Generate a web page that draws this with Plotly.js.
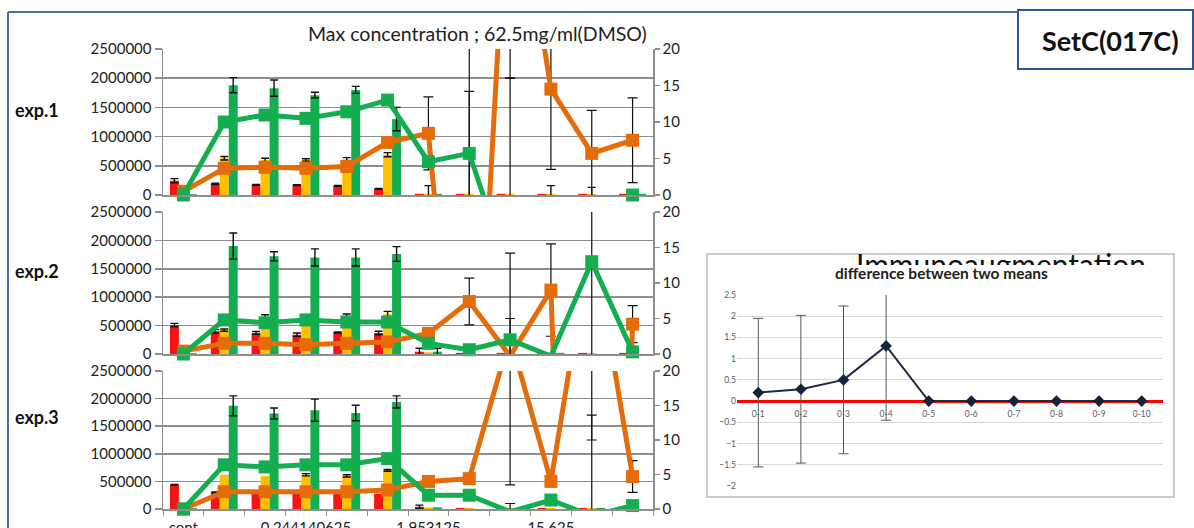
<!DOCTYPE html>
<html>
<head>
<meta charset="utf-8">
<script src="https://cdn.plot.ly/plotly-3.0.1.min.js"></script>
<style>
  html, body { margin: 0; padding: 0; overflow: hidden; background: #fff; }
  #main { position: absolute; left: 0; top: 0; width: 1194px; height: 528px; }
  #inset { position: absolute; left: 708px; top: 265px; width: 465px; height: 231px; background: #fff; }
</style>
</head>
<body>
<div id="main"></div>
<div id="inset"></div>
<script>
// ---------------- data ----------------
const categories = ['cont','0.06103515625','0.1220703125','0.244140625','0.48828125','0.9765625',
                    '1.953125','3.90625','7.8125','15.625','31.25','62.5'];
const xTickText = ['cont','','','0.244140625','','','1.953125','','','15.625','',''];
const leftTicks = [0, 500000, 1000000, 1500000, 2000000, 2500000];
const rightTicks = [0, 5, 10, 15, 20];
const expLabels = ['exp.1', 'exp.2', 'exp.3'];

// exp.1
const red1      = [245000,190000,172000,170000,155000,105000,20000,20000,20000,20000,20000,20000];
const red1Err   = [35000,10000,8000,8000,8000,8000,0,0,0,0,0,0];
const yellow1   = [0,630000,600000,600000,610000,690000,20000,20000,20000,20000,20000,20000];
const yellow1Err= [0,30000,30000,20000,30000,35000,140000,0,0,140000,110000,0];
const green1    = [15000,1880000,1830000,1710000,1800000,1300000,20000,0,0,0,0,20000];
const green1Err = [0,130000,140000,50000,60000,200000,0,0,0,0,0,0];
const orange1   = [0.5,3.65,3.8,3.65,3.9,7.2,8.45,-50,50,14.5,5.7,7.5];
const orange1Err= [0,0,0,0,0,0,5,80,34,11,5.9,5.8];
const gline1    = [0,10.0,10.96,10.5,11.4,13.0,4.56,5.7,-11,null,null,0];
const gline1Err = [0,0,0,0,0,0,0,8.5,27,0,0,0];

// exp.2
const red2      = [510000,400000,370000,340000,380000,370000,40000,20000,20000,20000,20000,20000];
const red2Err   = [30000,30000,25000,30000,10000,30000,60000,0,0,0,0,0];
const yellow2   = [0,420000,650000,600000,680000,700000,30000,20000,20000,20000,20000,20000];
const yellow2Err= [0,20000,40000,30000,25000,50000,0,0,0,0,0,0];
const green2    = [15000,1900000,1720000,1700000,1700000,1760000,40000,0,0,20000,0,0];
const green2Err = [0,230000,80000,150000,150000,130000,60000,0,0,0,0,0];
const orange2   = [0.4,1.5,1.5,1.3,1.5,1.7,2.9,7.4,-0.3,9.0,-150,4.2];
const orange2Err= [0,0,0,0,0,0,0,3.3,14.5,6.5,0,2.6];
const gline2    = [0,4.8,4.4,4.8,4.5,4.5,1.5,0.6,2.0,-0.3,13.0,0.3];
const gline2Err = [0,0,0,0,0,0,0.5,0,3,0,20,0];

// exp.3
const red3      = [440000,300000,300000,300000,300000,280000,40000,20000,20000,20000,20000,20000];
const red3Err   = [5000,10000,0,0,0,0,30000,0,0,0,0,0];
const yellow3   = [0,620000,600000,620000,600000,700000,30000,20000,20000,20000,20000,20000];
const yellow3Err= [0,0,0,20000,20000,15000,0,0,0,0,0,0];
const green3    = [15000,1870000,1730000,1790000,1740000,1940000,30000,0,0,0,20000,0];
const green3Err = [0,180000,100000,200000,140000,110000,0,0,0,0,0,0];
const orange3   = [0,2.5,2.5,2.5,2.5,2.75,4.0,4.4,25,4.0,40,4.7];
const orange3Err= [0,0,0,0,0,0,0,0,21.5,0,30,2.3];
const gline3    = [0,6.4,6.1,6.4,6.4,7.3,2.0,2.0,-0.4,1.3,-1,0.5];
const gline3Err = [0,0,0,0,0,0,0,0,1.2,0,14.6,0];

// inset: difference between two means
const diffCats  = ['0-1','0-2','0-3','0-4','0-5','0-6','0-7','0-8','0-9','0-10'];
const diffMeans = [0.2,0.28,0.5,1.3,0,0,0,0,0,0];
const diffErr   = [1.75,1.74,1.74,1.75,0,0,0,0,0,0];
const insetTicks = [-2,-1.5,-1,-0.5,0,0.5,1,1.5,2,2.5];

// ---------------- styling ----------------
const W = 1194, H = 528;
const px = x => x / W;
const py = y => 1 - y / H;
const RED = '#F41414', YEL = '#FFC000', GRN = '#14AE50', ORG = '#E46C0A';
const GRID = '#8e8e8e';
const FONT = 'Lato, "Open Sans", sans-serif';
const nz = a => a.map(v => (v > 0 ? v : NaN));

const exps = [
  {red: red1, redE: red1Err, yel: yellow1, yelE: yellow1Err, grn: green1, grnE: green1Err,
   org: orange1, orgE: orange1Err, gl: gline1, glE: gline1Err, top: 49, bot: 195},
  {red: red2, redE: red2Err, yel: yellow2, yelE: yellow2Err, grn: green2, grnE: green2Err,
   org: orange2, orgE: orange2Err, gl: gline2, glE: gline2Err, top: 212, bot: 354},
  {red: red3, redE: red3Err, yel: yellow3, yelE: yellow3Err, grn: green3, grnE: green3Err,
   org: orange3, orgE: orange3Err, gl: gline3, glE: gline3Err, top: 371, bot: 509}
];

const traces = [];
const layout = {
  width: W, height: H,
  margin: {l: 0, r: 0, t: 0, b: 0},
  paper_bgcolor: '#fff', plot_bgcolor: 'rgba(0,0,0,0)',
  barmode: 'group', bargap: 0.34, bargroupgap: 0,
  showlegend: false,
  font: {family: FONT, color: '#222'},
  shapes: [], annotations: []
};

const xDom = [px(163), px(653)];

exps.forEach((e, k) => {
  const xa = k === 0 ? 'x' : 'x' + (k + 1);
  const yl = k === 0 ? 'y' : 'y' + (2 * k + 1);
  const yr = 'y' + (2 * k + 2);
  const xKey = k === 0 ? 'xaxis' : 'xaxis' + (k + 1);
  const ylKey = k === 0 ? 'yaxis' : 'yaxis' + (2 * k + 1);
  const yrKey = 'yaxis' + (2 * k + 2);
  const errBar = arr => ({type: 'data', array: nz(arr), visible: true, color: '#111', thickness: 1.4, width: 4});
  const errLine = arr => ({type: 'data', array: nz(arr), visible: true, color: '#111', thickness: 1.2, width: 5});

  [[e.red, e.redE, RED], [e.yel, e.yelE, YEL], [e.grn, e.grnE, GRN]].forEach(([v, er, c]) => {
    traces.push({type: 'bar', x: categories, y: v, xaxis: xa, yaxis: yl,
      marker: {color: c, line: {width: 0}}, error_y: errBar(er), hoverinfo: 'skip'});
  });
  [[e.org, e.orgE, ORG], [e.gl, e.glE, GRN]].forEach(([v, er, c]) => {
    traces.push({type: 'scatter', mode: 'lines', x: categories, y: v, xaxis: xa, yaxis: yr,
      line: {color: c, width: 5}, connectgaps: false, cliponaxis: true, error_y: errLine(er), hoverinfo: 'skip'});
    traces.push({type: 'scatter', mode: 'markers', x: categories, y: v, xaxis: xa, yaxis: yr,
      marker: {symbol: 'square', size: 13, color: c}, cliponaxis: false, hoverinfo: 'skip'});
  });

  const isLast = k === 2;
  layout[xKey] = {
    type: 'category', categoryarray: categories, categoryorder: 'array', range: [-0.5, 11.5],
    domain: xDom, anchor: yl, showgrid: false, zeroline: false,
    showline: true, linecolor: GRID, linewidth: 1.5,
    ticks: isLast ? 'outside' : '', tickson: 'boundaries', ticklen: 5, tickcolor: GRID, tickwidth: 1,
    tickmode: 'array', tickvals: categories, ticktext: xTickText, tickangle: 0,
    ticklabelstandoff: 4,
    showticklabels: isLast, tickfont: {size: 15, color: '#222'}, fixedrange: true
  };
  layout[ylKey] = {
    domain: [py(e.bot), py(e.top)], anchor: xa, range: [0, 2500000],
    tickmode: 'array', tickvals: leftTicks, tickformat: 'd',
    showgrid: true, gridcolor: GRID, gridwidth: 1.5, zeroline: false,
    showline: true, linecolor: GRID, linewidth: 1.5,
    ticks: 'outside', ticklen: 7, tickcolor: GRID, tickwidth: 1.5,
    tickfont: {size: 15, color: '#222'}, fixedrange: true
  };
  layout[yrKey] = {
    overlaying: yl, side: 'right', anchor: xa, range: [0, 20],
    tickmode: 'array', tickvals: rightTicks,
    showgrid: false, zeroline: false, showline: true, linecolor: GRID, linewidth: 1.5,
    ticks: 'outside', ticklen: 5, tickcolor: GRID, tickwidth: 1.5,
    tickfont: {size: 15, color: '#222'}, fixedrange: true
  };
  layout.annotations.push({
    text: '<b>' + expLabels[k] + '</b>', xref: 'paper', yref: 'paper',
    x: px(37), y: py([110, 271, 417][k]), xanchor: 'center', yanchor: 'middle',
    showarrow: false, font: {size: 18, color: '#111', family: FONT}
  });
});

// title and slide decorations
layout.annotations.push({
  text: 'Max concentration ; 62.5mg/ml(DMSO)', xref: 'paper', yref: 'paper',
  x: px(478), y: py(33), xanchor: 'center', yanchor: 'middle', showarrow: false,
  font: {size: 19.5, color: '#222', family: FONT}
});
layout.annotations.push({
  text: '<b>SetC(017C)</b>', xref: 'paper', yref: 'paper',
  x: px(1110), y: py(40), xanchor: 'center', yanchor: 'middle', showarrow: false,
  font: {size: 27, color: '#111', family: FONT}
});
layout.annotations.push({
  text: 'Immunoaugmentation', xref: 'paper', yref: 'paper',
  x: px(1001), y: py(244), xanchor: 'center', yanchor: 'top', showarrow: false,
  font: {size: 30, color: '#111', family: FONT}
});
layout.shapes.push(
  {type: 'line', xref: 'paper', yref: 'paper', x0: px(8), x1: px(1018), y0: py(12), y1: py(12),
   line: {color: '#4a6fa5', width: 2}},
  {type: 'line', xref: 'paper', yref: 'paper', x0: px(8), x1: px(8), y0: py(12), y1: py(540),
   line: {color: '#4a6fa5', width: 2}},
  {type: 'rect', xref: 'paper', yref: 'paper', x0: px(1018), x1: px(1193), y0: py(10), y1: py(69),
   line: {color: '#2f5597', width: 2}, fillcolor: '#fff', layer: 'below'},
  {type: 'rect', xref: 'paper', yref: 'paper', x0: px(707), x1: px(1174), y0: py(254), y1: py(497),
   line: {color: '#bdbdbd', width: 1.5}, fillcolor: 'rgba(0,0,0,0)', layer: 'above'}
);

Plotly.newPlot('main', traces, layout, {displayModeBar: false, staticPlot: true});

// ---------------- inset ----------------
const insetTraces = [{
  type: 'scatter', mode: 'lines+markers', x: diffCats, y: diffMeans,
  line: {color: '#1c2b45', width: 2},
  marker: {symbol: 'diamond', size: 9, color: '#14233d'},
  error_y: {type: 'data', array: nz(diffErr), visible: true, color: '#555', thickness: 1, width: 5},
  hoverinfo: 'skip'
}];
const insetLayout = {
  width: 465, height: 231,
  margin: {l: 29, r: 10, t: 30, b: 10},
  paper_bgcolor: '#fff', plot_bgcolor: '#fff', showlegend: false,
  font: {family: FONT, color: '#595959'},
  xaxis: {type: 'category', categoryarray: diffCats, range: [-0.5, 9.5],
    anchor: 'free', position: 2 / 4.5, showgrid: false, showline: false, zeroline: false,
    ticks: '', ticklabelstandoff: 6, tickfont: {size: 8.5, color: '#595959'}, fixedrange: true},
  yaxis: {range: [-2, 2.5], tickmode: 'array', tickvals: insetTicks,
    showgrid: true, gridcolor: '#d9d9d9', gridwidth: 1,
    zeroline: true, zerolinecolor: '#ff0000', zerolinewidth: 3,
    showline: false, ticks: '', tickfont: {size: 8.5, color: '#595959'}, fixedrange: true},
  annotations: [{
    text: '<b>difference between two means</b>', xref: 'paper', yref: 'paper',
    x: 0.48, y: 1, yshift: 22, xanchor: 'center', yanchor: 'middle', showarrow: false,
    font: {size: 15.5, color: '#222', family: FONT}
  }]
};
Plotly.newPlot('inset', insetTraces, insetLayout, {displayModeBar: false, staticPlot: true});
</script>
</body>
</html>
